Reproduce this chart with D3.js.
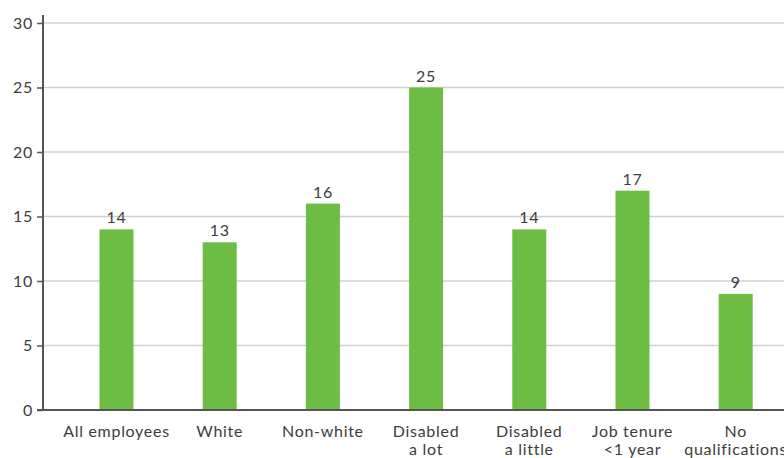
<!DOCTYPE html>
<html>
<head>
<meta charset="utf-8">
<script src="https://cdn.jsdelivr.net/npm/d3@7"></script>
<style>
  html, body { margin: 0; padding: 0; background: #fff; }
  svg { display: block; }
  text { font-family: Lato, "Open Sans", sans-serif; fill: #3d3d3d; letter-spacing: 0.7px; }
</style>
</head>
<body>
<svg id="chart" width="784" height="458"></svg>
<script>
// Share of employees (%) by group
const categories = [
  ["All employees"],
  ["White"],
  ["Non-white"],
  ["Disabled", "a lot"],
  ["Disabled", "a little"],
  ["Job tenure", "<1 year"],
  ["No", "qualifications"]
];
const values = [14, 13, 16, 25, 14, 17, 9];
const yTicks = [0, 5, 10, 15, 20, 25, 30];

const svg = d3.select("#chart");
const W = 784;
const axisX = 43, baseY = 410, topY = 23;

const y = d3.scaleLinear().domain([0, 30]).range([baseY, topY]);

const keys = categories.map(c => c.join(" "));
const step = 103.2, bw = 34;
const pInner = 1 - bw / step;
const pOuter = 56.5 / step;
const x = d3.scaleBand()
  .domain(keys)
  .range([axisX, axisX + step * (keys.length - pInner + 2 * pOuter)])
  .paddingInner(pInner)
  .paddingOuter(pOuter);

// horizontal gridlines
svg.append("g")
  .selectAll("line")
  .data(yTicks.filter(t => t > 0))
  .join("line")
  .attr("x1", axisX).attr("x2", W)
  .attr("y1", d => y(d)).attr("y2", d => y(d))
  .attr("stroke", "#d0d0d0")
  .attr("stroke-width", 1.5);

// bars
svg.append("g")
  .selectAll("rect")
  .data(values)
  .join("rect")
  .attr("x", (d, i) => x(keys[i]))
  .attr("width", x.bandwidth())
  .attr("y", d => y(d))
  .attr("height", d => baseY - y(d))
  .attr("fill", "#6dbd45");

// value labels
svg.append("g")
  .selectAll("text")
  .data(values)
  .join("text")
  .attr("x", (d, i) => x(keys[i]) + x.bandwidth() / 2)
  .attr("y", d => y(d) - 6)
  .attr("text-anchor", "middle")
  .attr("font-size", 16)
  .text(d => d);

// y axis
const yAxis = d3.axisLeft(y).tickValues(yTicks).tickSize(6).tickPadding(4);
const gy = svg.append("g").attr("transform", `translate(${axisX},0)`).call(yAxis);
gy.select(".domain").attr("stroke", "#555").attr("stroke-width", 2)
  .attr("d", `M0,${topY - 8}V${baseY}`);
gy.selectAll(".tick line").attr("stroke", "#555").attr("stroke-width", 1.5);
gy.selectAll(".tick text").attr("font-size", 16).attr("fill", "#3d3d3d")
  .style("font-family", "Lato, 'Open Sans', sans-serif");

// baseline
svg.append("line")
  .attr("x1", axisX - 6).attr("x2", W)
  .attr("y1", baseY).attr("y2", baseY)
  .attr("stroke", "#555").attr("stroke-width", 2);

// category labels
const xl = svg.append("g")
  .selectAll("text")
  .data(categories)
  .join("text")
  .attr("x", (d, i) => x(keys[i]) + x.bandwidth() / 2)
  .attr("y", 437)
  .attr("text-anchor", "middle")
  .attr("font-size", 16);
xl.selectAll("tspan")
  .data(d => d)
  .join("tspan")
  .attr("x", function() { return d3.select(this.parentNode).attr("x"); })
  .attr("dy", (d, i) => i === 0 ? 0 : 18)
  .text(d => d);
</script>
</body>
</html>
